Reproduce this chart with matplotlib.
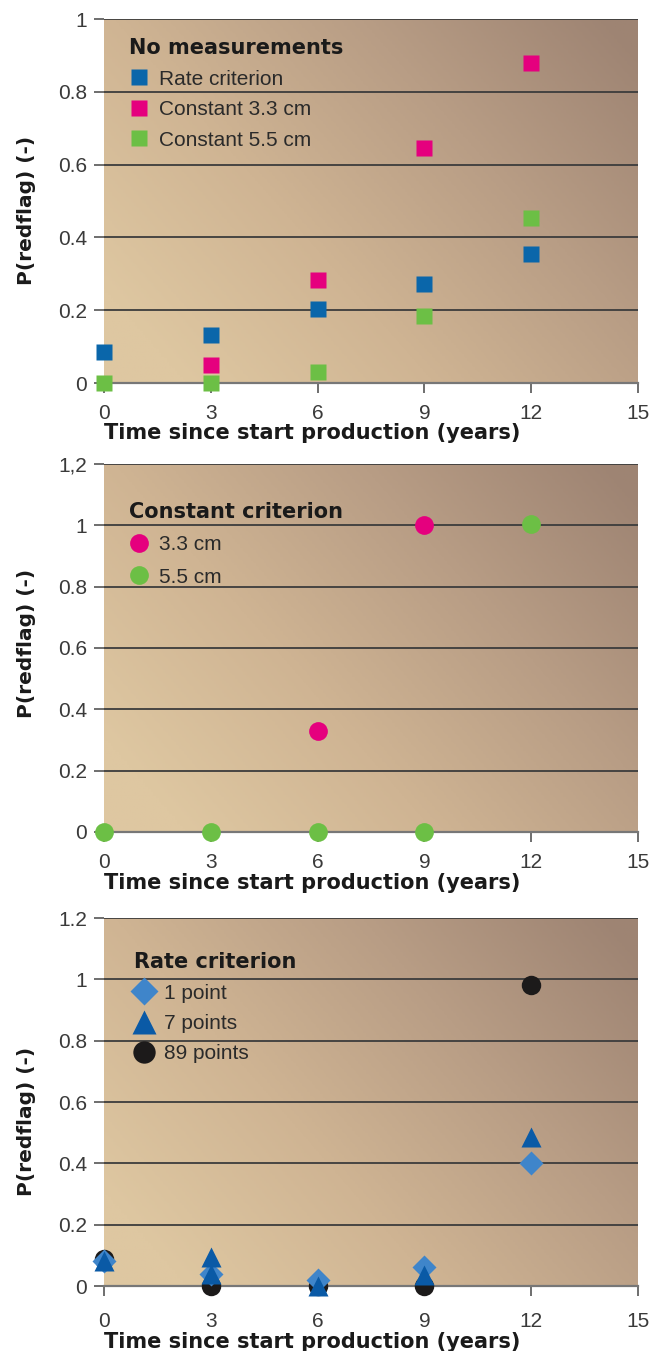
import numpy as np
import matplotlib
matplotlib.use("Agg")
import matplotlib.pyplot as plt
from matplotlib.colors import LinearSegmentedColormap
from matplotlib import font_manager

# ---- data -------------------------------------------------------------
years = [0, 3, 6, 9, 12]
x_ticks = [0, 3, 6, 9, 12, 15]

# panel 1: no measurements
nm_rate = [0.084, 0.132, 0.203, 0.272, 0.354]
nm_c33_years = [3, 6, 9, 12]
nm_c33 = [0.05, 0.283, 0.646, 0.878]
nm_c55 = [0.0, 0.0, 0.031, 0.183, 0.452]

# panel 2: constant criterion
cc_33_years = [6, 9]
cc_33 = [0.328, 1.0]
cc_55 = [0.0, 0.0, 0.0, 0.0, 1.003]

# panel 3: rate criterion
rc_1pt = [0.08, 0.04, 0.018, 0.062, 0.40]
rc_7pt_years = [0, 3, 3, 6, 9, 12]
rc_7pt = [0.08, 0.096, 0.04, 0.0, 0.035, 0.487]
rc_89pt = [0.089, 0.0, 0.0, 0.0, 0.983]

yticks_1 = [0, 0.2, 0.4, 0.6, 0.8, 1.0]
ylabels_1 = ["0", "0.2", "0.4", "0.6", "0.8", "1"]
yticks_2 = [0, 0.2, 0.4, 0.6, 0.8, 1.0, 1.2]
ylabels_2 = ["0", "0.2", "0.4", "0.6", "0.8", "1", "1,2"]
ylabels_3 = ["0", "0.2", "0.4", "0.6", "0.8", "1", "1.2"]

# ---- fonts ------------------------------------------------------------
names = {f.name for f in font_manager.fontManager.ttflist}
light_font = "Liberation Sans Narrow" if "Liberation Sans Narrow" in names else "Liberation Sans"

TICK_COLOR = "#3a3a3a"
GRID_COLOR = "#3c3c3c"
TITLE_COLOR = "#1a1a1a"

bg_cmap = LinearSegmentedColormap.from_list(
    "sand", ["#dec7a1", "#cfb493", "#b89d85", "#9e8473"])


def background(ax):
    xs = np.linspace(0, 1, 200)
    ys = np.linspace(0, 1, 200)
    X, Y = np.meshgrid(xs, ys)
    t = 0.75 * (X - 0.15) + 0.45 * Y
    t = np.clip(t / 1.05, 0, 1)
    ax.imshow(t, cmap=bg_cmap, origin="lower", extent=[0, 1, 0, 1],
              transform=ax.transAxes, aspect="auto", zorder=0, vmin=0, vmax=1)


def style(ax, yticks, ylabels, ymax, xpad, xlab_y, ylab_y):
    background(ax)
    ax.set_xlim(0, 15)
    ax.set_ylim(0, ymax)
    for s in ["left", "right", "top"]:
        ax.spines[s].set_visible(False)
    ax.spines["bottom"].set_color("#777777")
    ax.spines["bottom"].set_linewidth(1.6)
    ax.spines["bottom"].set_zorder(2)
    for v in yticks[1:]:
        ax.axhline(v, color=GRID_COLOR, lw=1.3, zorder=1)
    ax.set_xticks(x_ticks)
    ax.set_xticklabels([str(v) for v in x_ticks])
    ax.set_yticks(yticks)
    ax.set_yticklabels(ylabels)
    ax.tick_params(axis="x", direction="out", length=7, width=1.2,
                   color="#555555", labelsize=15, labelcolor=TICK_COLOR, pad=xpad)
    ax.tick_params(axis="y", direction="out", length=7, width=1.2,
                   color="#555555", labelsize=15, labelcolor=TICK_COLOR, pad=5)
    for lab in ax.get_xticklabels() + ax.get_yticklabels():
        lab.set_fontfamily(light_font)
    ax.set_ylabel("P(redflag) (-)", fontsize=14.5, fontweight="bold",
                  family="DejaVu Sans", color=TITLE_COLOR)
    ax.yaxis.set_label_coords(-0.145, ylab_y)
    ax.yaxis.label.set_verticalalignment("center")
    ax.set_xlabel("Time since start production (years)", fontsize=15,
                  fontweight="bold", family="DejaVu Sans", color=TITLE_COLOR)
    ax.xaxis.set_label_coords(0.0, xlab_y)
    ax.xaxis.label.set_horizontalalignment("left")
    ax.xaxis.label.set_verticalalignment("center")


def add_legend(ax, handles, labels, title, anchor, spacing, mscale=1.0):
    leg = ax.legend(handles, labels, loc="upper left", bbox_to_anchor=anchor,
                    frameon=False, title=title, alignment="left",
                    handletextpad=0.45, labelspacing=spacing, borderaxespad=0,
                    handlelength=1.0, markerscale=mscale,
                    prop={"family": light_font, "size": 15})
    leg.get_title().set_fontweight("bold")
    leg.get_title().set_fontsize(15)
    leg.get_title().set_family("DejaVu Sans")
    leg.get_title().set_color(TITLE_COLOR)
    for t in leg.get_texts():
        t.set_color("#2a2a2a")
    leg.set_zorder(5)
    return leg


fig = plt.figure(figsize=(6.6, 13.51), dpi=100)
left, width = 0.1576, 0.809

# ---- panel 1 ----------------------------------------------------------
ax1 = fig.add_axes([left, 0.7165, width, 0.2694])
style(ax1, yticks_1, ylabels_1, 1.0, xpad=8, xlab_y=-0.137, ylab_y=0.475)
ms_sq = 11.5
ax1.plot(years, nm_rate, ls="none", marker="s", ms=ms_sq, color="#0a66aa",
         mec="none", label="Rate criterion", zorder=4, clip_on=False)
ax1.plot(nm_c33_years, nm_c33, ls="none", marker="s", ms=ms_sq, color="#e5007e",
         mec="none", label="Constant 3.3 cm", zorder=4, clip_on=False)
ax1.plot(years, nm_c55, ls="none", marker="s", ms=ms_sq, color="#6cbf45",
         mec="none", label="Constant 5.5 cm", zorder=4, clip_on=False)
h, l = ax1.get_legend_handles_labels()
add_legend(ax1, h, l, "No measurements", (0.031, 0.97), 0.55)

# ---- panel 2 ----------------------------------------------------------
ax2 = fig.add_axes([left, 0.3842, width, 0.2724])
style(ax2, yticks_2, ylabels_2, 1.2, xpad=8, xlab_y=-0.139, ylab_y=0.511)
ms_c = 13.5
ax2.plot(cc_33_years, cc_33, ls="none", marker="o", ms=ms_c, color="#e5007e",
         mec="none", label="3.3 cm", zorder=4, clip_on=False)
ax2.plot(years, cc_55, ls="none", marker="o", ms=ms_c, color="#6cbf45",
         mec="none", label="5.5 cm", zorder=4, clip_on=False)
h, l = ax2.get_legend_handles_labels()
add_legend(ax2, h, l, "Constant criterion", (0.031, 0.92), 0.65)

# ---- panel 3 ----------------------------------------------------------
ax3 = fig.add_axes([left, 0.0481, width, 0.2724])
style(ax3, yticks_2, ylabels_3, 1.2, xpad=12, xlab_y=-0.152, ylab_y=0.446)
ax3.plot(years, rc_89pt, ls="none", marker="o", ms=14, color="#1c1a1a",
         mec="none", label="89 points", zorder=3, clip_on=False)
ax3.plot(years, rc_1pt, ls="none", marker="D", ms=12, color="#3f85ca",
         mec="none", label="1 point", zorder=4, clip_on=False)
ax3.plot(rc_7pt_years, rc_7pt, ls="none", marker="^", ms=15, color="#0a5aa6",
         mec="none", label="7 points", zorder=5, clip_on=False)
h, l = ax3.get_legend_handles_labels()
order = [1, 2, 0]
add_legend(ax3, [h[i] for i in order], [l[i] for i in order],
           "Rate criterion", (0.04, 0.93), 0.55, mscale=1.15)

fig.savefig("out.png", dpi=100, facecolor="white")
